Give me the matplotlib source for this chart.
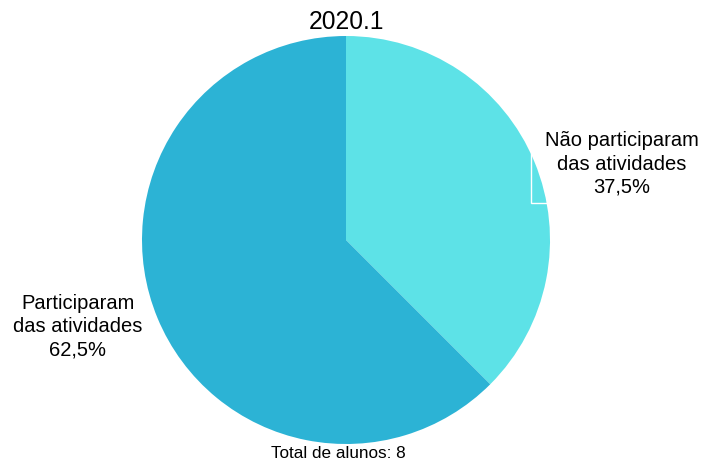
import matplotlib
matplotlib.use("Agg")
import matplotlib.pyplot as plt
from matplotlib.patches import Rectangle

plt.rcParams["font.family"] = ["Liberation Sans", "DejaVu Sans"]

# data
categories = ["Não participaram\ndas atividades", "Participaram\ndas atividades"]
counts = [3, 5]
colors = ["#5DE2E7", "#2CB3D5"]
title = "2020.1"
total = sum(counts)

W, H = 709, 463
fig = plt.figure(figsize=(W / 100, H / 100), dpi=100)

# pie centre (346, 240) px, radius 204 px
cx, cy, r = 346, 240, 204
ax = fig.add_axes([(cx - r) / W, (H - cy - r) / H, 2 * r / W, 2 * r / H])
ax.pie(counts, colors=colors, startangle=90, counterclock=False, radius=1,
       wedgeprops=dict(linewidth=0))
ax.set_xlim(-1, 1)
ax.set_ylim(-1, 1)
ax.set_aspect("equal")
ax.axis("off")


def px(x, y):
    return ((x - cx) / r, (cy - y) / r)


pcts = [c / total * 100 for c in counts]
labels = [f"{cat}\n{p:.1f}%".replace(".", ",") for cat, p in zip(categories, pcts)]

# label box outline (only visible where it overlaps the pie)
x0, y0 = px(531, 203)
x1, y1 = px(706, 118)
ax.add_patch(Rectangle((x0, y0), x1 - x0, y1 - y0, facecolor="none",
                       edgecolor="white", linewidth=1, clip_on=False, zorder=3))

ax.text(*px(622, 164), labels[0], ha="center", va="center", fontsize=14.5,
        linespacing=1.27, clip_on=False)
ax.text(*px(78, 327), labels[1], ha="center", va="center", fontsize=14.5,
        linespacing=1.27, clip_on=False)

fig.text(346 / W, 1 - 22 / H, title, ha="center", va="center", fontsize=17.7)
fig.text(338 / W, 1 - 453 / H, f"Total de alunos: {total}", ha="center", va="center",
         fontsize=12.3)

fig.savefig("out.png", dpi=100)
